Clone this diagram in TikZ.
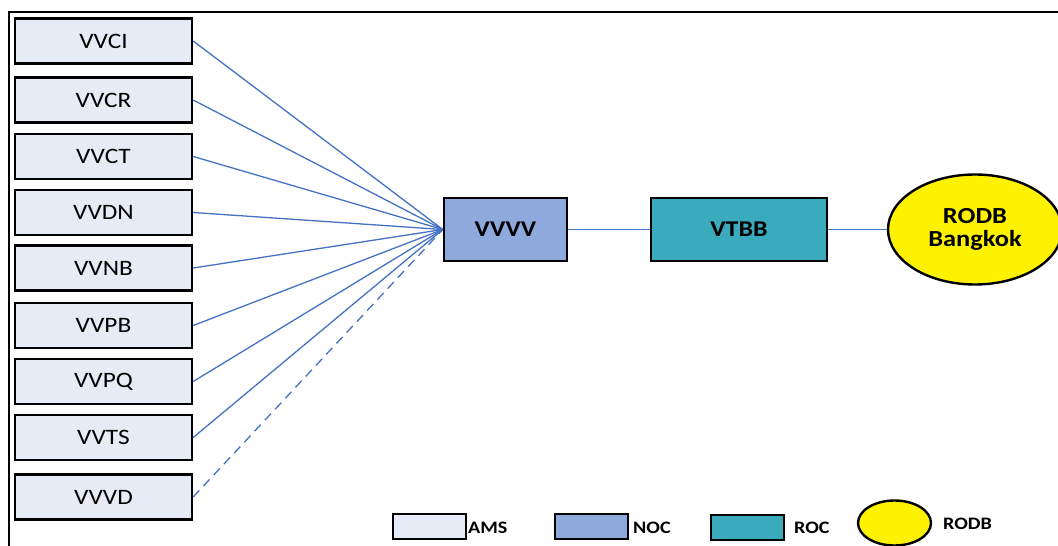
\documentclass[tikz,border=0pt]{standalone}
\usepackage{fontspec}
\setmainfont{Carlito}[FakeStretch=1.15]
\usetikzlibrary{shapes.geometric}
\definecolor{amsfill}{HTML}{E7EBF6}
\definecolor{nocfill}{HTML}{8EA9DB}
\definecolor{rocfill}{HTML}{3AAABD}
\definecolor{linkblue}{HTML}{4472C4}
\tikzset{
  amsbox/.style={draw=black, line width=2.4pt, fill=amsfill, minimum width=177pt, minimum height=45pt, inner sep=0pt, font=\fontsize{22}{25}\selectfont},
  nocbox/.style={draw=black, line width=2.4pt, fill=nocfill, minimum width=123pt, minimum height=63pt, inner sep=0pt, font=\fontsize{22.5}{25}\selectfont\bfseries},
  rocbox/.style={draw=black, line width=2.4pt, fill=rocfill, minimum width=176pt, minimum height=63pt, inner sep=0pt, font=\fontsize{22.5}{25}\selectfont\bfseries},
  rodbell/.style={draw=black, line width=2.4pt, fill=yellow, ellipse, inner sep=0pt, minimum width=174pt, minimum height=110pt, align=center, font=\fontsize{23}{26}\selectfont\bfseries},
  legbox/.style={draw=black, line width=2.4pt, minimum width=73pt, minimum height=25pt, inner sep=0pt},
  legell/.style={draw=black, line width=2.4pt, fill=yellow, ellipse, minimum width=73pt, minimum height=45pt, inner sep=0pt},
  legtext/.style={anchor=west, inner sep=0pt, font=\fontsize{17.5}{19}\selectfont\bfseries},
  link/.style={draw=linkblue, line width=1.3pt},
  frameline/.style={draw=black, line width=2.6pt}
}
\begin{document}
\begin{tikzpicture}[x=1pt,y=-1pt]
\useasboundingbox (0,0) rectangle (1058,546);
\fill[white] (0,0) rectangle (1058,546);
% frame
\coordinate (fa) at (9,546);
\coordinate (fb) at (9,12);
\coordinate (fc) at (1058,12);
\draw[frameline] (fa) -- (fb) -- (fc);
% left AMS boxes
\node[amsbox] (vvci) at (103.5,41) {VVCI};
\node[amsbox] (vvcr) at (103.5,100) {VVCR};
\node[amsbox] (vvct) at (103.5,156.5) {VVCT};
\node[amsbox] (vvdn) at (103.5,212.5) {VVDN};
\node[amsbox] (vvnb) at (103.5,268) {VVNB};
\node[amsbox] (vvpb) at (103.5,325.5) {VVPB};
\node[amsbox] (vvpq) at (103.5,381.5) {VVPQ};
\node[amsbox] (vvts) at (103.5,437.5) {VVTS};
\node[amsbox] (vvvd) at (103.5,497) {VVVD};
% center nodes
\node[nocbox] (vvvv) at (505.5,229.5) {VVVV};
\node[rocbox] (vtbb) at (739,229.5) {VTBB};
\node[rodbell] (rodb) at (975,229.5) {RODB\\[-3pt]Bangkok};
% connectors
\foreach \n in {vvci,vvcr,vvct,vvdn,vvnb,vvpb,vvpq,vvts}{
  \draw[link] (\n.east) -- (vvvv.west);
}
\draw[link, dash pattern=on 9pt off 6pt] (vvvd.east) -- (vvvv.west);
\draw[link] (vvvv.east) -- (vtbb.west);
\draw[link] (vtbb.east) -- (rodb.west);
% legend
\node[legbox, fill=amsfill] (lams) at (429.5,526.5) {};
\node[legtext] (tams) at (468,528) {AMS};
\node[legbox, fill=nocfill] (lnoc) at (591.5,526.5) {};
\node[legtext] (tnoc) at (633,528) {NOC};
\node[legbox, fill=rocfill] (lroc) at (747.5,527.5) {};
\node[legtext] (troc) at (794,528) {ROC};
\node[legell] (lrodb) at (894.5,523) {};
\node[legtext] (trodb) at (943,524) {RODB};
\end{tikzpicture}
\end{document}
